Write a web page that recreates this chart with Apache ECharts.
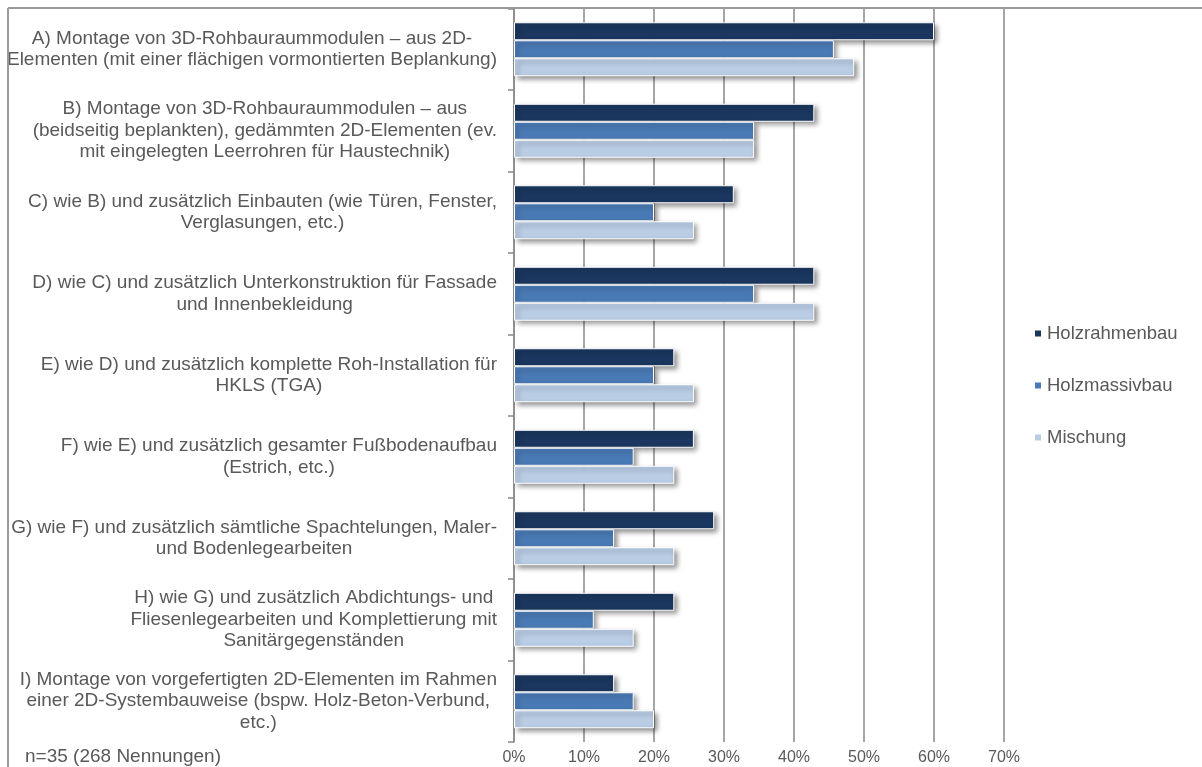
<!DOCTYPE html>
<html>
<head>
<meta charset="utf-8">
<script src="https://cdn.jsdelivr.net/npm/echarts@6/dist/echarts.min.js"></script>
<style>
  html, body { margin: 0; padding: 0; background: #fff; }
  #chart { width: 1202px; height: 767px; }
</style>
</head>
<body>
<div id="chart"></div>
<script>
var categories = [
  'A) Montage von 3D-Rohbauraummodulen – aus 2D-\nElementen (mit einer flächigen vormontierten Beplankung)',
  'B) Montage von 3D-Rohbauraummodulen – aus\n(beidseitig beplankten), gedämmten 2D-Elementen (ev.\nmit eingelegten Leerrohren für Haustechnik)',
  'C) wie B) und zusätzlich Einbauten (wie Türen, Fenster,\nVerglasungen, etc.)',
  'D) wie C) und zusätzlich Unterkonstruktion für Fassade\nund Innenbekleidung',
  'E) wie D) und zusätzlich komplette Roh-Installation für\nHKLS (TGA)',
  'F) wie E) und zusätzlich gesamter Fußbodenaufbau\n(Estrich, etc.)',
  'G) wie F) und zusätzlich sämtliche Spachtelungen, Maler-\nund Bodenlegearbeiten',
  'H) wie G) und zusätzlich Abdichtungs- und\nFliesenlegearbeiten und Komplettierung mit\nSanitärgegenständen',
  'I) Montage von vorgefertigten 2D-Elementen im Rahmen\neiner 2D-Systembauweise (bspw. Holz-Beton-Verbund,\netc.)'
];
var holzrahmenbau = [60.0, 42.9, 31.4, 42.9, 22.9, 25.7, 28.6, 22.9, 14.3];
var holzmassivbau = [45.7, 34.3, 20.0, 34.3, 20.0, 17.1, 14.3, 11.4, 17.1];
var mischung      = [48.6, 34.3, 25.7, 42.9, 25.7, 22.9, 22.9, 17.1, 20.0];
var seriesNames = ['Holzrahmenbau', 'Holzmassivbau', 'Mischung'];
var colors = ['#1b375f', '#4a7ab5', '#b9cde5'];
var note = 'n=35 (268 Nennungen)';

var font = '"Liberation Sans", Arial, sans-serif';
var textColor = '#595959';
var gridColor = '#888888';

function makeSeries(name, data, color) {
    return {
        name: name,
        type: 'bar',
        data: data,
        barWidth: 18,
        barGap: '0%',
        itemStyle: {
            color: color,
            borderColor: '#ffffff',
            borderWidth: 1,
            shadowColor: 'rgba(0,0,0,0.45)',
            shadowBlur: 5,
            shadowOffsetX: 3,
            shadowOffsetY: 3
        }
    };
}

var chart = echarts.init(document.getElementById('chart'));
var option = {
    animation: false,
    backgroundColor: '#ffffff',
    textStyle: { fontFamily: font },
    grid: {
        left: 514,
        right: 198,
        top: 8.5,
        bottom: 25,
        containLabel: false
    },
    legend: {
        orient: 'vertical',
        left: 1028,
        top: 319,
        itemWidth: 8,
        itemHeight: 8,
        itemGap: 33,
        icon: 'rect',
        data: seriesNames,
        textStyle: { color: textColor, fontSize: 18.5, fontFamily: font }
    },
    xAxis: {
        type: 'value',
        min: 0,
        max: 70,
        interval: 10,
        axisLine: { show: false },
        axisTick: { show: false },
        axisLabel: {
            formatter: '{value}%',
            color: textColor,
            fontSize: 16,
            fontFamily: font,
            margin: 8
        },
        splitLine: { show: true, lineStyle: { color: gridColor, width: 1.5 } }
    },
    yAxis: {
        type: 'category',
        inverse: true,
        data: categories,
        axisLine: { show: true, lineStyle: { color: gridColor, width: 1.5 } },
        axisTick: { show: true, length: 6, lineStyle: { color: gridColor, width: 1.5 } },
        axisLabel: {
            margin: 17,
            align: 'right',
            lineHeight: 21.5,
            color: textColor,
            fontSize: 19,
            fontFamily: font,
            formatter: function (value) {
                return value.split('\n').map(function (line) {
                    return '{c|' + line + '}';
                }).join('\n');
            },
            rich: {
                c: {
                    align: 'center',
                    color: textColor,
                    fontSize: 19,
                    lineHeight: 21.5,
                    fontFamily: font
                }
            }
        }
    },
    graphic: [
        {
            type: 'line',
            shape: { x1: 8, y1: 8, x2: 1202, y2: 8 },
            style: { stroke: '#9a9a9a', lineWidth: 2 },
            z: 10
        },
        {
            type: 'line',
            shape: { x1: 8, y1: 8, x2: 8, y2: 767 },
            style: { stroke: '#9a9a9a', lineWidth: 2 },
            z: 10
        },
        {
            type: 'text',
            left: 25,
            top: 747,
            style: { text: note, fill: textColor, font: '19px ' + font }
        }
    ],
    series: [
        makeSeries(seriesNames[0], holzrahmenbau, colors[0]),
        makeSeries(seriesNames[1], holzmassivbau, colors[1]),
        makeSeries(seriesNames[2], mischung, colors[2])
    ]
};
chart.setOption(option);
</script>
</body>
</html>
